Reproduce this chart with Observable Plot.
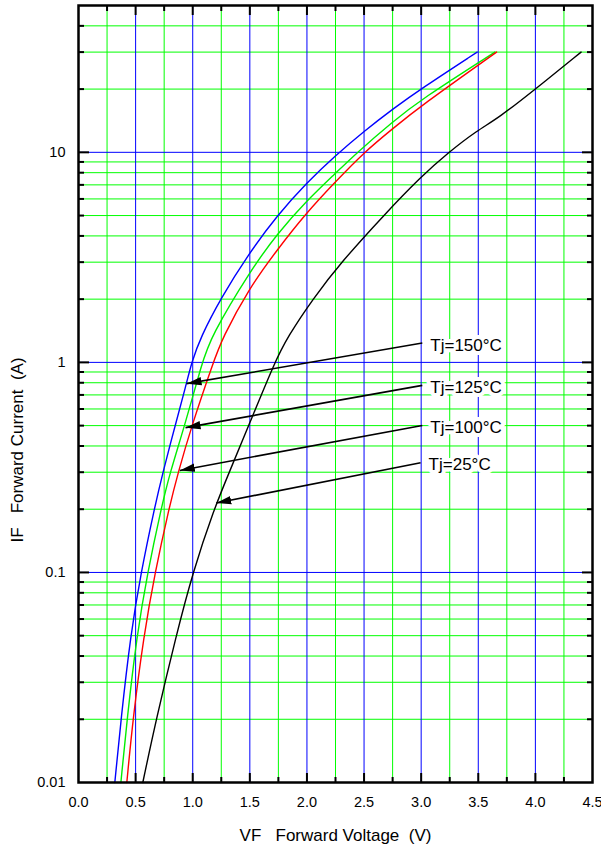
<!DOCTYPE html>
<html>
<head>
<meta charset="utf-8">
<script src="https://cdn.jsdelivr.net/npm/d3@7"></script>
<script src="https://cdn.jsdelivr.net/npm/@observablehq/plot@0.6"></script>
<style>
  html, body { margin: 0; padding: 0; background: #fff; }
  svg text { paint-order: stroke; }
</style>
</head>
<body>
<div id="chart"></div>
<script>
// ---- Data ----
const current150 = [0.01, 0.02, 0.05, 0.1, 0.2, 0.3, 0.5, 0.776, 1, 1.32, 2.01, 3.29, 5.01, 7.18, 9.6, 12.6, 16.2, 20, 30];
const voltage150 = [0.318, 0.372, 0.455, 0.547, 0.663, 0.739, 0.846, 0.941, 0.99, 1.07, 1.243, 1.49, 1.74, 2.0, 2.245, 2.5, 2.76, 2.995, 3.49];

const current125 = [0.01, 0.02, 0.05, 0.1, 0.2, 0.3, 0.49, 1, 1.32, 2.74, 4.1, 5.9, 7.9, 10, 13.9, 17.8, 30];
const voltage125 = [0.371, 0.425, 0.51, 0.605, 0.722, 0.802, 0.925, 1.083, 1.158, 1.506, 1.74, 2.0, 2.245, 2.44, 2.746, 2.995, 3.645];

const current100 = [0.01, 0.02, 0.05, 0.1, 0.2, 0.3, 0.5, 1, 1.30, 2.24, 3.44, 5.1, 7.2, 10, 12.9, 16.6, 30];
const voltage100 = [0.423, 0.476, 0.571, 0.67, 0.79, 0.873, 0.991, 1.18, 1.258, 1.49, 1.74, 1.988, 2.245, 2.5, 2.746, 2.995, 3.66];

const current25 = [0.01, 0.02, 0.05, 0.1, 0.2, 0.3, 0.5, 1, 1.32, 2, 3, 5, 7.63, 10, 12.7, 14.6, 20, 30];
const voltage25 = [0.563, 0.68, 0.855, 1.0, 1.186, 1.32, 1.49, 1.717, 1.83, 2.05, 2.30, 2.67, 2.995, 3.24, 3.49, 3.68, 4.0, 4.4];

const seriesNames = ["Tj=150°C", "Tj=125°C", "Tj=100°C", "Tj=25°C"];
const seriesColors = ["#0000ff", "#00ee00", "#ff0000", "#000000"];

// annotation arrows: label anchor (start) -> tip on curve
const arrowStartV = [3.01, 3.01, 3.01, 2.995];
const arrowStartI = [1.236, 0.777, 0.501, 0.333];
const arrowTipV = [0.946, 0.937, 0.887, 1.206];
const arrowTipI = [0.792, 0.489, 0.306, 0.214];

// axes / grid
const xMajor = [0.5, 1.0, 1.5, 2.0, 2.5, 3.0, 3.5, 4.0];
const xMinor = [0.25, 0.75, 1.25, 1.75, 2.25, 2.75, 3.25, 3.75, 4.25];
const xTickLabels = [0, 0.5, 1.0, 1.5, 2.0, 2.5, 3.0, 3.5, 4.0, 4.5];
const yMajor = [0.1, 1, 10];
const yMinor = [0.02, 0.03, 0.04, 0.05, 0.06, 0.07, 0.08, 0.09,
                0.2, 0.3, 0.4, 0.5, 0.6, 0.7, 0.8, 0.9,
                2, 3, 4, 5, 6, 7, 8, 9, 20, 30, 40];
const yTickLabels = [0.01, 0.1, 1, 10];

const xTitle = "VF\u00a0\u00a0\u00a0Forward Voltage\u00a0\u00a0(V)";
const yTitle = "IF\u00a0\u00a0\u00a0Forward Current\u00a0\u00a0(A)";

// ---- build tables ----
const curves = [];
[[voltage150, current150], [voltage125, current125], [voltage100, current100], [voltage25, current25]]
  .forEach(([V, I], k) => V.forEach((v, i) => curves.push({series: seriesNames[k], v, i: I[i]})));

const arrows = seriesNames.map((name, k) => ({
  name, x1: arrowStartV[k], y1: arrowStartI[k], x2: arrowTipV[k], y2: arrowTipI[k]
}));

const blue = "#0000ff", green = "#00ff00";

const plot = Plot.plot({
  width: 601,
  height: 848,
  marginLeft: 78,
  marginRight: 9,
  marginTop: 5,
  marginBottom: 66,
  style: {fontFamily: "'Liberation Sans', Arial, sans-serif", color: "black", background: "white", overflow: "visible"},
  x: {domain: [0, 4.5]},
  y: {type: "log", domain: [0.01, 50]},
  color: {domain: seriesNames, range: seriesColors},
  marks: [
    // grid
    Plot.ruleX(xMinor, {stroke: green, strokeWidth: 1}),
    Plot.ruleY(yMinor, {stroke: green, strokeWidth: 1}),
    Plot.ruleX(xMajor, {stroke: blue, strokeWidth: 1}),
    Plot.ruleY(yMajor, {stroke: blue, strokeWidth: 1}),
    // curves
    Plot.line(curves, {x: "v", y: "i", z: "series", stroke: "series", strokeWidth: 1.4, curve: "basis"}),
    // arrows
    Plot.link(arrows, {x1: "x1", y1: "y1", x2: "x2", y2: "y2", stroke: "black", strokeWidth: 1.6}),
    // labels
    Plot.text(arrows, {x: "x1", y: "y1", text: "name", textAnchor: "start", lineAnchor: "middle",
      dx: 8, dy: 2, fontSize: 17, fill: "black", stroke: "white", strokeWidth: 8, strokeLinejoin: "round"}),
    // frame
    Plot.frame({stroke: "black", strokeWidth: 2.5}),
    // inward ticks
    Plot.axisX({ticks: xMajor, anchor: "bottom", tickSize: -9, strokeWidth: 2, tickFormat: () => ""}),
    Plot.axisX({ticks: xMinor, anchor: "bottom", tickSize: -5, strokeWidth: 2, tickFormat: () => ""}),
    Plot.axisX({ticks: xMajor, anchor: "top", tickSize: -9, strokeWidth: 2, tickFormat: () => ""}),
    Plot.axisX({ticks: xMinor, anchor: "top", tickSize: -5, strokeWidth: 2, tickFormat: () => ""}),
    Plot.axisY({ticks: yMajor, anchor: "left", tickSize: -11, strokeWidth: 2, tickFormat: () => ""}),
    Plot.axisY({ticks: yMinor, anchor: "left", tickSize: -6, strokeWidth: 2, tickFormat: () => ""}),
    Plot.axisY({ticks: yMajor, anchor: "right", tickSize: -11, strokeWidth: 2, tickFormat: () => ""}),
    Plot.axisY({ticks: yMinor, anchor: "right", tickSize: -6, strokeWidth: 2, tickFormat: () => ""}),
    // tick labels
    Plot.axisX({ticks: xTickLabels, anchor: "bottom", tickSize: 0, tickPadding: 14, fontSize: 14.5,
      tickFormat: d3.format(".1f"), label: null}),
    Plot.axisY({ticks: yTickLabels, anchor: "left", tickSize: 0, tickPadding: 13, fontSize: 14.5,
      tickFormat: d => String(d), label: null}),
    // axis titles
    Plot.text([xTitle], {frameAnchor: "bottom", dy: 46, lineAnchor: "top", textAnchor: "middle", fontSize: 17, fill: "black"}),
    Plot.text([yTitle], {frameAnchor: "left", rotate: -90, dx: -61, dy: 56, lineAnchor: "middle", textAnchor: "middle", fontSize: 17, fill: "black"})
  ]
});

// filled arrowheads on the annotation links
const ns = "http://www.w3.org/2000/svg";
const defs = document.createElementNS(ns, "defs");
const marker = document.createElementNS(ns, "marker");
marker.setAttribute("id", "ahead");
marker.setAttribute("viewBox", "0 -5 15 10");
marker.setAttribute("refX", "15");
marker.setAttribute("refY", "0");
marker.setAttribute("markerWidth", "15");
marker.setAttribute("markerHeight", "10");
marker.setAttribute("markerUnits", "userSpaceOnUse");
marker.setAttribute("orient", "auto");
const mp = document.createElementNS(ns, "path");
mp.setAttribute("d", "M0,-4.2L15,0L0,4.2Z");
mp.setAttribute("fill", "black");
marker.appendChild(mp);
defs.appendChild(marker);
plot.appendChild(defs);
plot.querySelectorAll('g[aria-label="link"] path').forEach(p => p.setAttribute("marker-end", "url(#ahead)"));

document.getElementById("chart").appendChild(plot);
</script>
</body>
</html>
